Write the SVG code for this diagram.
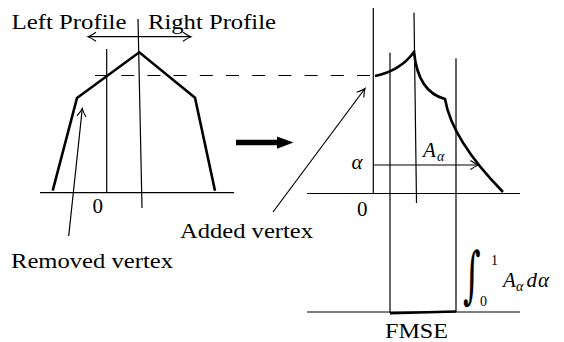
<svg xmlns="http://www.w3.org/2000/svg" width="564" height="342" viewBox="0 0 564 342">
<defs>
<style>
.ln{stroke:#000;stroke-width:1.2;fill:none}
.thk{stroke:#000;stroke-width:2.6;fill:none;stroke-linejoin:miter}
.dash{stroke:#000;stroke-width:1.2;stroke-dasharray:13 13.2;fill:none}
</style>
<marker id="oa" viewBox="-10 -6 12 12" refX="0" refY="0" markerWidth="12" markerHeight="12" markerUnits="userSpaceOnUse" orient="auto-start-reverse">
<path d="M-8,-4.5 Q-3,-1 0,0 Q-3,1 -8,4.5" fill="none" stroke="#000" stroke-width="1.1"/>
</marker>
</defs>

<g id="left-profile">
<line class="ln" x1="40" y1="192.7" x2="234" y2="192.7"/>
<line class="ln" x1="106.7" y1="49" x2="106.7" y2="192.7"/>
<line class="ln" x1="138" y1="19" x2="142" y2="208"/>
<polyline class="thk" points="52.7,190.7 77,98 139.3,52.3 195,97.7 215,190.7"/>
<text font-family="Liberation Serif" font-size="21" x="11.5" y="29" textLength="115" lengthAdjust="spacingAndGlyphs">Left Profile</text>
<text font-family="Liberation Serif" font-size="21" x="148" y="29" textLength="128" lengthAdjust="spacingAndGlyphs">Right Profile</text>
<text font-family="Liberation Serif" font-size="21" x="92.5" y="213">0</text>
</g>

<g id="right-profile">
<line class="ln" x1="307" y1="193.5" x2="520" y2="193.5"/>
<line class="ln" x1="307" y1="312" x2="520" y2="312"/>
<line class="ln" x1="373.3" y1="8" x2="373.3" y2="193.5"/>
<line class="ln" x1="414" y1="12.7" x2="416.5" y2="203"/>
<line class="ln" x1="390" y1="52.7" x2="390" y2="313"/>
<line class="ln" x1="456" y1="58.3" x2="456" y2="312"/>
<path class="thk" d="M375,76 Q400,71 414,52 Q418,92 445,99 Q452,140 503,192"/>
<line x1="390" y1="313.3" x2="456" y2="311.5" stroke="#000" stroke-width="2.6"/>
<text font-family="Liberation Serif" font-size="21" x="357" y="216">0</text>
<text font-family="Liberation Serif" font-size="21" font-style="italic" x="351.5" y="169">α</text>
<text font-family="Liberation Serif" font-size="21" font-style="italic" x="423" y="157">A</text>
<text font-family="Liberation Serif" font-size="14" font-style="italic" x="437" y="161">α</text>
<text font-family="Liberation Serif" font-size="21" x="385" y="338" textLength="63" lengthAdjust="spacingAndGlyphs">FMSE</text>
</g>

<g id="integral">
<text font-family="DejaVu Serif" font-size="34" x="0" y="0" transform="translate(463,295.5) scale(1,1.82)">∫</text>
<text font-family="Liberation Serif" font-size="14" x="491" y="265">1</text>
<text font-family="Liberation Serif" font-size="14" x="480" y="306">0</text>
<text font-family="Liberation Serif" font-size="21" font-style="italic" x="503" y="287">A</text>
<text font-family="Liberation Serif" font-size="14" font-style="italic" x="516" y="291">α</text>
<text font-family="Liberation Serif" font-size="21" font-style="italic" x="526.5" y="287">d</text>
<text font-family="Liberation Serif" font-size="21" font-style="italic" x="538" y="287">α</text>
</g>

<g id="labels">
<text font-family="Liberation Serif" font-size="21" x="11" y="268" textLength="162" lengthAdjust="spacingAndGlyphs">Removed vertex</text>
<text font-family="Liberation Serif" font-size="21" x="180" y="238" textLength="133" lengthAdjust="spacingAndGlyphs">Added vertex</text>
</g>

<g id="connectors">
<line class="ln" x1="88" y1="36.7" x2="191" y2="36.7" marker-start="url(#oa)" marker-end="url(#oa)"/>
<line class="dash" x1="95" y1="75.5" x2="373" y2="75.5"/>
<line class="ln" x1="68.7" y1="236" x2="82.3" y2="108.5" marker-end="url(#oa)"/>
<line class="ln" x1="273" y1="212" x2="365" y2="88.5" marker-end="url(#oa)"/>
<line class="ln" x1="373.3" y1="165" x2="478.5" y2="165" marker-end="url(#oa)"/>
<path d="M236,139.8 H277 V136.5 L293.5,142.5 L277,148.8 V145.2 H236 Z" fill="#000"/>
</g>
</svg>
